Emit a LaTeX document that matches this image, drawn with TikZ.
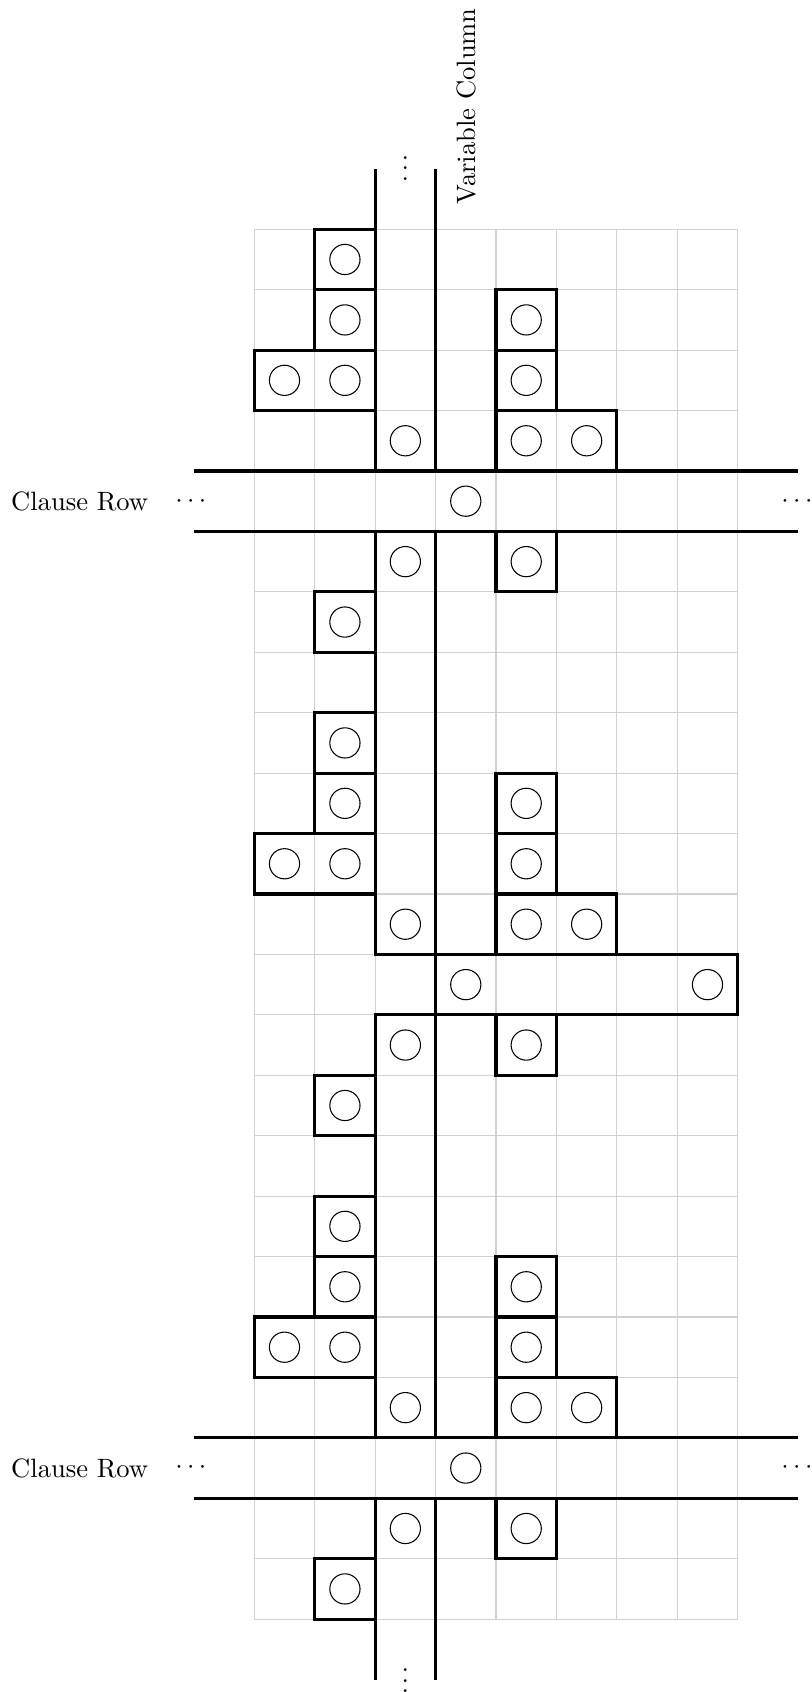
\documentclass[tikz,border=0pt]{standalone}
\begin{document}
\begin{tikzpicture}[x=0.8cm,y=0.8cm,
  wall/.style={line width=1.2pt},
  tok/.style={line width=0.4pt},
  gridline/.style={black!18, line width=0.4pt},
  lbl/.style={inner sep=0pt}]
\useasboundingbox (-4.208,-24.206) rectangle (9.213,3.794);
% background grid
\foreach \i in {0,...,8} \draw[gridline] (\i,0) -- (\i,-23);
\foreach \j in {0,...,23} \draw[gridline] (0,-\j) -- (8,-\j);
% variable column walls
\draw[wall] (2,1) -- (2,-4);
\draw[wall] (3,1) -- (3,-4);
\draw[wall] (2,-5) -- (2,-12) -- (8,-12) -- (8,-13) -- (2,-13) -- (2,-20);
\draw[wall] (3,-5) -- (3,-20);
\draw[wall] (2,-21) -- (2,-24);
\draw[wall] (3,-21) -- (3,-24);
% clause rows
\foreach \y in {4,5,20,21} \draw[wall] (-1,-\y) -- (9,-\y);
% repeating gadgets
\foreach \o in {0,8,16} {
  % left gadget
  \draw[wall] (2,-\o) -- (1,-\o) -- (1,-\o-2) -- (0,-\o-2) -- (0,-\o-3) -- (2,-\o-3);
  \draw[wall] (1,-\o-1) -- (2,-\o-1);
  \draw[wall] (1,-\o-2) -- (2,-\o-2);
  \draw[wall] (2,-\o-6) -- (1,-\o-6) -- (1,-\o-7) -- (2,-\o-7);
  % right gadget
  \draw[wall] (4,-\o-4) -- (4,-\o-1) -- (5,-\o-1) -- (5,-\o-3) -- (6,-\o-3) -- (6,-\o-4);
  \draw[wall] (4,-\o-2) -- (5,-\o-2);
  \draw[wall] (4,-\o-3) -- (5,-\o-3);
  \draw[wall] (4,-\o-5) -- (4,-\o-6) -- (5,-\o-6) -- (5,-\o-5);
  % tokens
  \foreach \c/\r in {1/0,1/1,0/2,1/2,1/6,4/1,4/2,4/3,5/3,4/5,2/3,2/5}
    \draw[tok] (\c+0.5,-\o-\r-0.5) circle (0.25);
}
\foreach \c/\r in {3/4,3/12,7/12,3/20}
  \draw[tok] (\c+0.5,-\r-0.5) circle (0.25);
% labels
\node (cr1) at (-2.889,-4.5) {Clause Row};
\node (cr2) at (-2.889,-20.5) {Clause Row};
\node (ld1) at (-1.05,-4.5) {$\cdots$};
\node (rd1) at (8.98,-4.5) {$\cdots$};
\node (ld2) at (-1.05,-20.5) {$\cdots$};
\node (rd2) at (8.98,-20.5) {$\cdots$};
\node (vt) at (2.5,1.14) {$\vdots$};
\node (vb) at (2.5,-23.89) {$\vdots$};
\node[lbl, rotate=90, anchor=base west] (vc) at (3.66,0.40) {Variable Column};
\end{tikzpicture}
\end{document}
